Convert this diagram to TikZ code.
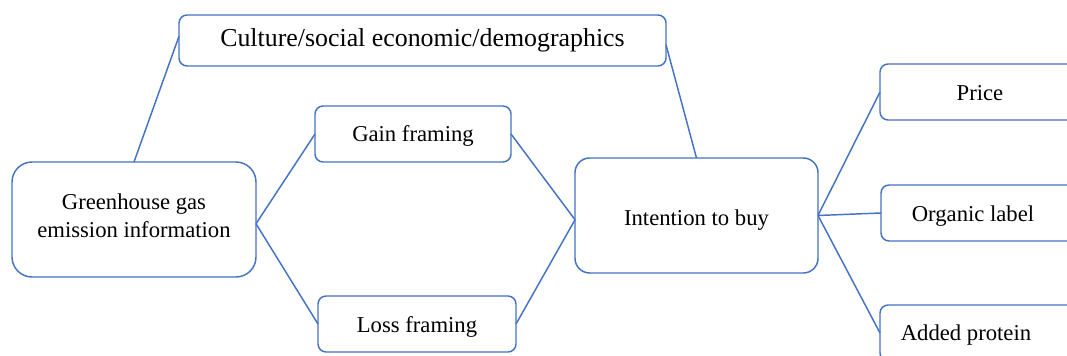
\documentclass[tikz,border=0pt]{standalone}
\usepackage{fontspec}
\setmainfont{Liberation Serif}
\definecolor{linkblue}{RGB}{68,114,196}
\begin{document}
\begin{tikzpicture}[x=0.75pt,y=-0.75pt,
  box/.style={draw=linkblue,line width=1.1pt,fill=white,rounded corners=6pt,
    inner sep=0pt,outer sep=0pt,align=center,font=\fontsize{17}{21.5}\selectfont},
  link/.style={draw=linkblue,line width=1.1pt}]
\useasboundingbox (0,0) rectangle (1067,356);
\clip (0,0) rectangle (1067,356);
% nodes
\node[box,minimum width=365.25pt,minimum height=38.25pt,font=\fontsize{19.4}{23}\selectfont] (culture) at (422.5,40.5) {Culture/social economic/demographics};
\node[box,minimum width=147pt,minimum height=42pt,text height=15pt] (gain) at (413,134) {Gain framing};
\node[box,minimum width=148.5pt,minimum height=42pt,text height=16pt] (loss) at (417,324) {Loss framing};
\node[box,minimum width=183pt,minimum height=86.25pt,rounded corners=15pt,text depth=6pt] (ghg) at (134,219.5) {Greenhouse gas\\emission information};
\node[box,minimum width=182.25pt,minimum height=86.25pt,rounded corners=11pt,text height=18pt] (intent) at (696.5,215.5) {Intention to buy};
% the right-hand boxes run past the edge; their labels sit left of centre
\node[box,minimum width=150pt,minimum height=42pt,text height=13.5pt] (price) at (980,92) {Price};
\node[box,minimum width=150pt,minimum height=42pt,text height=16.5pt] (organic) at (981,213) {\hspace*{-12pt}Organic label};
\node[box,minimum width=150pt,minimum height=42pt,text height=15pt] (added) at (980,333) {\hspace*{-21pt}Added protein};
% connectors
\draw[link] (ghg.north) -- (culture.179.5);
\draw[link] (culture.-1) -- (intent.north);
\draw[link] (ghg.-2.6) -- (gain.west);
\draw[link] (ghg.-2.6) -- (loss.west);
\draw[link] (gain.east) -- (intent.-178);
\draw[link] (loss.east) -- (intent.-178);
\draw[link] (intent.east) -- (price.west);
\draw[link] (intent.east) -- (organic.west);
\draw[link] (intent.east) -- (added.west);
\end{tikzpicture}
\end{document}
